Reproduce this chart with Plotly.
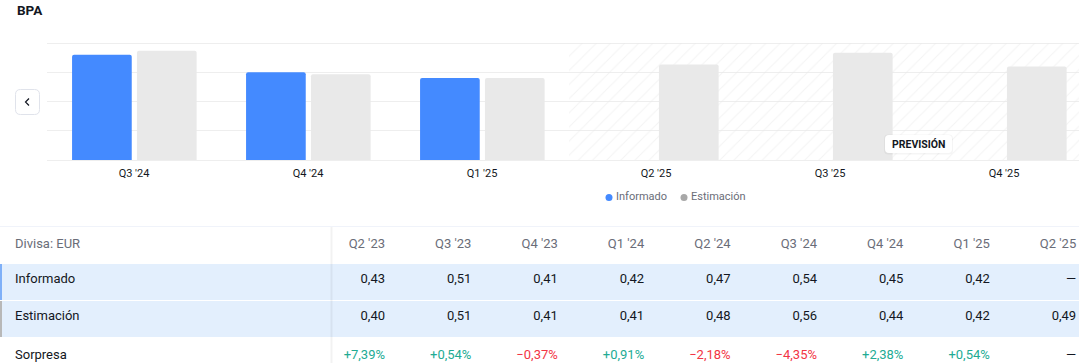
import plotly.graph_objects as go

# ---------------- data ----------------
title_text = "BPA"
chart_quarters = ["Q3 '24", "Q4 '24", "Q1 '25", "Q2 '25", "Q3 '25", "Q4 '25"]
chart_reported = [0.54, 0.45, 0.42, None, None, None]
chart_estimate = [0.56, 0.44, 0.42, 0.49, 0.55, 0.48]
n_actual = 3  # first forecast category index

legend_labels = ["Informado", "Estimación"]
forecast_label = "PREVISIÓN"

currency_label = "Divisa: EUR"
row_labels = ["Informado", "Estimación", "Sorpresa"]
table_quarters = ["Q2 '23", "Q3 '23", "Q4 '23", "Q1 '24", "Q2 '24", "Q3 '24", "Q4 '24", "Q1 '25", "Q2 '25"]
table_reported = [0.43, 0.51, 0.41, 0.42, 0.47, 0.54, 0.45, 0.42, None]
table_estimate = [0.40, 0.51, 0.41, 0.41, 0.48, 0.56, 0.44, 0.42, 0.49]
table_surprise = [7.39, 0.54, -0.37, 0.91, -2.18, -4.35, 2.38, 0.54, None]

# ---------------- styles ----------------
W, H = 1079, 363
FONT = "Roboto, 'Liberation Sans', sans-serif"
BLUE = "#448aff"
GRAY_BAR = "#e9e9e9"
TEXT = "#131722"
SUB = "#6a6d78"
GRID = "#eeeeee"
ROW_BG = "#e3effd"
GREEN = "#22ab94"
RED = "#f23645"
DASH = "\u2014"


def fmt_num(v):
    return DASH if v is None else f"{v:.2f}".replace(".", ",")


def fmt_pct(v):
    if v is None:
        return DASH
    sign = "+" if v >= 0 else "\u2212"
    return sign + f"{abs(v):.2f}".replace(".", ",") + "%"


def pct_color(v):
    if v is None:
        return TEXT
    return GREEN if v >= 0 else RED


fig = go.Figure()

# chart geometry (pixels): value 0 at y=160 px, value y_max at y=43 px
plot_left, plot_right = 47, W
zero_px, top_px = 160, 43
y_max = 0.6
px_per_unit = (zero_px - top_px) / y_max
pad_px = 2
y_lo = -pad_px / px_per_unit
y_hi = y_max + pad_px / px_per_unit
x_lo = -0.5
x_hi = x_lo + (plot_right - plot_left) / 174.0
bar_w = 0.343
idx = list(range(len(chart_quarters)))

# forecast hatch region
fig.add_trace(go.Bar(
    x=[(n_actual - 0.5 + x_hi + 1) / 2], y=[y_max], base=0, width=[(x_hi + 1) - (n_actual - 0.5)],
    marker=dict(color="rgba(0,0,0,0)", line=dict(width=0),
                pattern=dict(shape="/", fgcolor="#e8e8e8", bgcolor="rgba(0,0,0,0)",
                             size=10, solidity=0.1, fillmode="overlay")),
    hoverinfo="skip", showlegend=False, xaxis="x", yaxis="y"))

fig.add_trace(go.Bar(
    x=idx, y=chart_reported, width=bar_w, offset=-0.356,
    marker=dict(color=BLUE, line=dict(width=0), cornerradius=2),
    name=legend_labels[0], showlegend=False, xaxis="x", yaxis="y"))
fig.add_trace(go.Bar(
    x=idx, y=chart_estimate, width=bar_w, offset=0.017,
    marker=dict(color=GRAY_BAR, line=dict(width=0), cornerradius=2),
    name=legend_labels[1], showlegend=False, xaxis="x", yaxis="y"))

# ---------------- overlay pixel axes (x2/y2) ----------------
# legend
leg_x = [609, 684]
leg_y = 197.5
fig.add_trace(go.Scatter(
    x=leg_x, y=[leg_y, leg_y], mode="markers",
    marker=dict(size=7, color=[BLUE, "#a8a8a8"]),
    hoverinfo="skip", showlegend=False, xaxis="x2", yaxis="y2"))
fig.add_trace(go.Scatter(
    x=[x + 7 for x in leg_x], y=[leg_y, leg_y], mode="text", text=legend_labels,
    textposition="middle right", textfont=dict(size=11, color=SUB, family=FONT),
    hoverinfo="skip", showlegend=False, xaxis="x2", yaxis="y2"))

# table
row_y = [245, 280, 317, 356]
col_right = [385 + 86.4 * i for i in range(len(table_quarters))]
label_x = 15

fig.add_trace(go.Scatter(
    x=[label_x] * 4, y=row_y, mode="text", text=[currency_label] + row_labels,
    textposition="middle right",
    textfont=dict(size=13, color=[SUB, TEXT, TEXT, TEXT], family=FONT),
    hoverinfo="skip", showlegend=False, xaxis="x2", yaxis="y2"))

cell_x, cell_y, cell_t, cell_c = [], [], [], []
for i, q in enumerate(table_quarters):
    vals = [(q, SUB), (fmt_num(table_reported[i]), TEXT),
            (fmt_num(table_estimate[i]), TEXT),
            (fmt_pct(table_surprise[i]), pct_color(table_surprise[i]))]
    for r, (t, c) in enumerate(vals):
        cell_x.append(col_right[i])
        cell_y.append(row_y[r])
        cell_t.append(t)
        cell_c.append(c)
fig.add_trace(go.Scatter(
    x=cell_x, y=cell_y, mode="text", text=cell_t, textposition="middle left",
    textfont=dict(size=13, color=cell_c, family=FONT),
    hoverinfo="skip", showlegend=False, xaxis="x2", yaxis="y2"))

shapes = []
# table top line
shapes.append(dict(type="line", xref="x2", yref="y2", x0=0, x1=W, y0=226.5, y1=226.5,
                   line=dict(color="#f0f3fa", width=1), layer="below"))
# row backgrounds
shapes.append(dict(type="rect", xref="x2", yref="y2", x0=0, x1=W, y0=264, y1=300,
                   fillcolor=ROW_BG, line=dict(width=0), layer="below"))
shapes.append(dict(type="rect", xref="x2", yref="y2", x0=0, x1=W, y0=301, y1=337,
                   fillcolor=ROW_BG, line=dict(width=0), layer="below"))
shapes.append(dict(type="rect", xref="x2", yref="y2", x0=0, x1=2, y0=264, y1=300,
                   fillcolor="#7fb0f8", line=dict(width=0), layer="below"))
shapes.append(dict(type="rect", xref="x2", yref="y2", x0=0, x1=2, y0=301, y1=337,
                   fillcolor="#b8b8b8", line=dict(width=0), layer="below"))
# column divider
shapes.append(dict(type="line", xref="x2", yref="y2", x0=331.5, x1=331.5, y0=227, y1=H,
                   line=dict(color="rgba(0,0,0,0.05)", width=2), layer="above"))

# left nav button
def rrect(x0, y0, x1, y1, r):
    return (f"M{x0+r},{y0} L{x1-r},{y0} Q{x1},{y0} {x1},{y0+r} L{x1},{y1-r} "
            f"Q{x1},{y1} {x1-r},{y1} L{x0+r},{y1} Q{x0},{y1} {x0},{y1-r} "
            f"L{x0},{y0+r} Q{x0},{y0} {x0+r},{y0} Z")

shapes.append(dict(type="path", xref="x2", yref="y2", path=rrect(15.5, 89.5, 39.5, 114.5, 5),
                   fillcolor="white", line=dict(color="#e0e3eb", width=1), layer="above"))
shapes.append(dict(type="path", xref="x2", yref="y2", path="M29,98.5 L25.5,102 L29,105.5",
                   line=dict(color=TEXT, width=1.2), layer="above"))

# forecast badge
shapes.append(dict(type="path", xref="x2", yref="y2", path=rrect(884, 134.5, 953, 154.5, 4),
                   fillcolor="rgba(0,0,0,0.04)", line=dict(width=0), layer="above"))
shapes.append(dict(type="path", xref="x2", yref="y2", path=rrect(885, 135, 952, 153, 4),
                   fillcolor="white", line=dict(width=0), layer="above"))

annotations = [
    dict(xref="x2", yref="y2", x=15, y=9.5, text=f"<b>{title_text}</b>", showarrow=False,
         xanchor="left", yanchor="middle", font=dict(size=13.5, color=TEXT, family=FONT)),
    dict(xref="x2", yref="y2", x=918.5, y=144, text=f"<b>{forecast_label}</b>", showarrow=False,
         xanchor="center", yanchor="middle", font=dict(size=10.5, color=TEXT, family=FONT)),
]

y_dom_bottom = (H - (zero_px + pad_px)) / H
y_dom_top = (H - (top_px - pad_px)) / H

fig.update_layout(
    width=W, height=H, margin=dict(l=0, r=0, t=0, b=0),
    paper_bgcolor="white", plot_bgcolor="rgba(0,0,0,0)",
    barmode="overlay", showlegend=False,
    font=dict(family=FONT, color=TEXT),
    xaxis=dict(domain=[plot_left / W, 1], range=[x_lo, x_hi], tickvals=idx, ticktext=chart_quarters,
               showgrid=False, zeroline=False, showline=False, ticks="", ticklabelstandoff=3,
               tickfont=dict(size=11, color=TEXT, family=FONT), anchor="y", fixedrange=True),
    yaxis=dict(domain=[y_dom_bottom, y_dom_top], range=[y_lo, y_hi],
               tick0=0, dtick=0.15, showgrid=True, gridcolor=GRID, gridwidth=1,
               zeroline=False, showticklabels=False, ticks="", anchor="x", fixedrange=True),
    xaxis2=dict(domain=[0, 1], range=[0, W], visible=False, anchor="y2", fixedrange=True),
    yaxis2=dict(domain=[0, 1], range=[H, 0], visible=False, anchor="x2", fixedrange=True),
    shapes=shapes, annotations=annotations,
)

fig.write_html("out.html", config={"displayModeBar": False},
               post_script="document.body.style.margin='0';document.body.style.overflow='hidden';")
